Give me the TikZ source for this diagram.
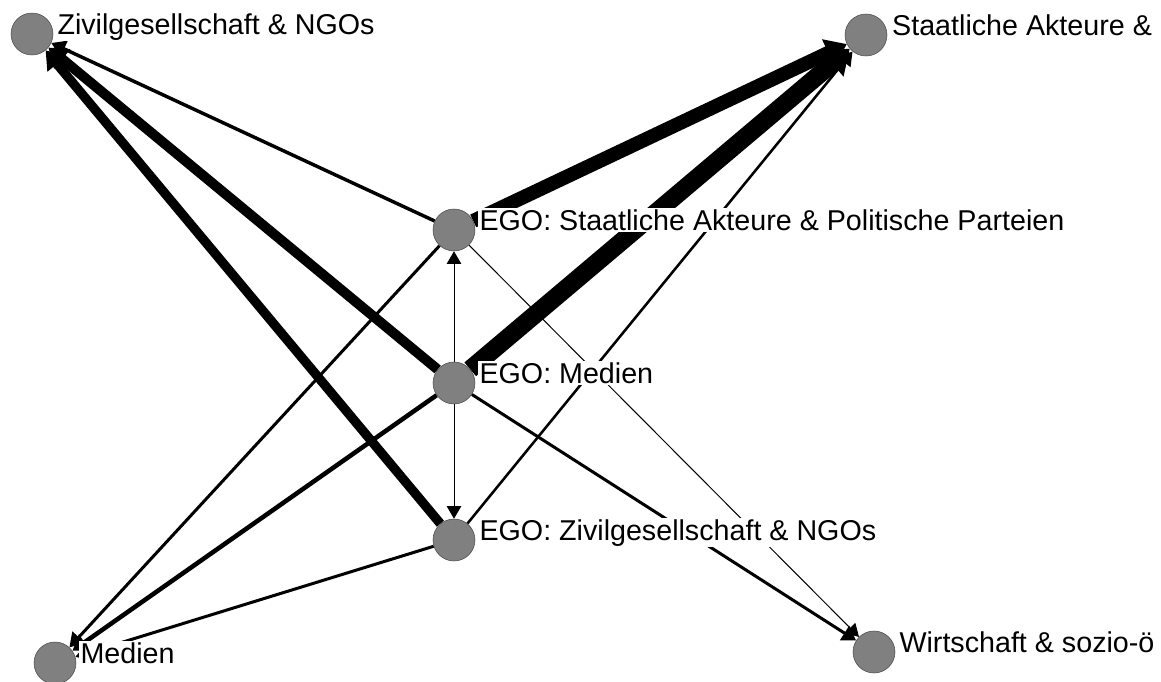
\documentclass[tikz,border=0pt]{standalone}
\usepackage{fontspec}
\setmainfont{Liberation Sans}
\usetikzlibrary{
  arrows.meta,
  backgrounds,
  positioning,
}
\tikzset{
  >={Triangle[length=9pt 0.6,width=10pt 1.1]},
}

\begin{document}
\begin{tikzpicture}[x=0.75pt,y=-0.75pt,
    actor/.style={draw=black!70,circle,fill=black!50,minimum size=31.5pt,inner sep=0pt},
    lbl/.style={fill=white,inner sep=1pt,font=\fontsize{21.5pt}{24pt}\selectfont},
    tie/.style={->,line width=#1}]

        \useasboundingbox (0,0) rectangle (1161,682);

        \node[actor]    (Z)     at (32,34)      {};
        \node[actor]    (S)     at (866,35)     {};
        \node[actor]    (ES)    at (454,230)    {};
        \node[actor]    (EM)    at (454,383)    {};
        \node[actor]    (EZ)    at (454,540)    {};
        \node[actor]    (M)     at (55,663)     {};
        \node[actor]    (W)     at (874,652)    {};

        \node[lbl,right=2pt of Z.east,anchor=base west]     (lZ)    {Zivilgesellschaft \& NGOs};
        \node[lbl,right=2.5pt of S.east,anchor=base west]   (lS)    {Staatliche Akteure \&};
        \node[lbl,right=2pt of ES.east,anchor=base west]    (lES)   {EGO: Staatliche Akteure \& Politische Parteien};
        \node[lbl,right=2pt of EM.east,anchor=base west]    (lEM)   {EGO: Medien};
        \node[lbl,right=2pt of EZ.east,anchor=base west]    (lEZ)   {EGO: Zivilgesellschaft \& NGOs};
        \node[lbl,right=2pt of M.east,anchor=base west]     (lM)    {Medien};
        \node[lbl,right=2pt of W.east,anchor=base west]     (lW)    {Wirtschaft \& sozio-ö};

        \begin{scope}[on background layer]
        \draw[tie=10.5pt] (ES) -- (S);
        \draw[tie=13.5pt] (EM) -- (S);
        \draw[tie=1.9pt] (EZ) -- (S);
        \draw[tie=2.6pt] (ES) -- (Z);
        \draw[tie=7.5pt] (EM) -- (Z);
        \draw[tie=7pt] (EZ) -- (Z);
        \draw[tie=2.25pt] (ES) -- (M);
        \draw[tie=3.4pt] (EM) -- (M);
        \draw[tie=2.25pt] (EZ) -- (M);
        \draw[tie=2.25pt] (EM) -- (W);
        \draw[tie=0.75pt] (ES) -- (W);
        \draw[tie=0.75pt] (EM) -- (ES);
        \draw[tie=0.75pt] (EM) -- (EZ);
        \end{scope}

    \end{tikzpicture}
\end{document}
